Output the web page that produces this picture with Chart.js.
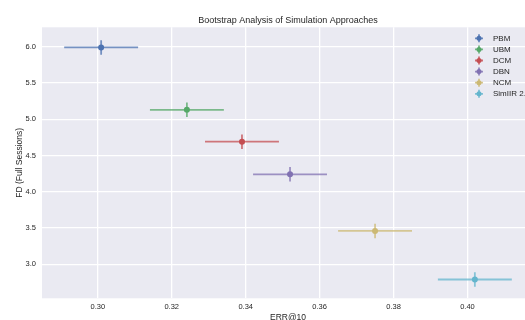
<!DOCTYPE html>
<html>
<head>
<meta charset="utf-8">
<script src="https://cdn.jsdelivr.net/npm/chart.js@4.4.1/dist/chart.umd.min.js"></script>
<style>
  html, body { margin: 0; padding: 0; background: #fff; overflow: hidden; }
  #wrap { width: 545px; height: 330px; }
</style>
</head>
<body>
<div id="wrap"><canvas id="chart" width="545" height="330"></canvas></div>
<script>
// data
const methods = ['PBM', 'UBM', 'DCM', 'DBN', 'NCM', 'SimIIR 2.0'];
const errValues = [0.3009, 0.3241, 0.3390, 0.3520, 0.3750, 0.4020];
const fdValues = [5.99, 5.13, 4.69, 4.24, 3.46, 2.79];
const errCi = [0.010, 0.010, 0.010, 0.010, 0.010, 0.010];
const fdCi = [0.10, 0.10, 0.10, 0.10, 0.10, 0.10];
const xTicks = [0.30, 0.32, 0.34, 0.36, 0.38, 0.40];
const yTicks = [3.0, 3.5, 4.0, 4.5, 5.0, 5.5, 6.0];
const colors = ['#4C72B0', '#55A868', '#C44E52', '#8172B2', '#CCB974', '#64B5CD'];

const FONT = "'Liberation Sans', Arial, sans-serif";
const TEXT = '#262626';

// grey plot background (seaborn darkgrid)
const bgPlugin = {
  id: 'bg',
  beforeDraw(chart) {
    const { ctx, chartArea: a } = chart;
    ctx.save();
    ctx.fillStyle = '#EAEAF2';
    ctx.fillRect(a.left, a.top, a.width, a.height);
    ctx.restore();
  }
};

// horizontal + vertical error bars through the scales
const errPlugin = {
  id: 'errbars',
  beforeDatasetsDraw(chart) {
    const { ctx, chartArea: a } = chart;
    const xs = chart.scales.x, ys = chart.scales.y;
    ctx.save();
    ctx.beginPath();
    ctx.rect(a.left, a.top, a.width, a.height);
    ctx.clip();
    ctx.lineWidth = 1.8;
    ctx.globalAlpha = 0.75;
    methods.forEach((m, i) => {
      const cx = xs.getPixelForValue(errValues[i]);
      const cy = ys.getPixelForValue(fdValues[i]);
      ctx.strokeStyle = colors[i];
      ctx.beginPath();
      ctx.moveTo(xs.getPixelForValue(errValues[i] - errCi[i]), cy);
      ctx.lineTo(xs.getPixelForValue(errValues[i] + errCi[i]), cy);
      ctx.moveTo(cx, ys.getPixelForValue(fdValues[i] - fdCi[i]));
      ctx.lineTo(cx, ys.getPixelForValue(fdValues[i] + fdCi[i]));
      ctx.stroke();
    });
    ctx.restore();
  }
};

// legend in the upper right of the plot
const legendPlugin = {
  id: 'innerLegend',
  afterDraw(chart) {
    const { ctx } = chart;
    ctx.save();
    ctx.font = '8px ' + FONT;
    ctx.textBaseline = 'middle';
    ctx.textAlign = 'left';
    methods.forEach((m, i) => {
      const y = 38.3 + i * 11.1;
      const x = 479;
      ctx.strokeStyle = colors[i];
      ctx.fillStyle = colors[i];
      ctx.lineWidth = 1.8;
      ctx.globalAlpha = 0.8;
      ctx.beginPath();
      ctx.moveTo(x - 4, y); ctx.lineTo(x + 4, y);
      ctx.moveTo(x, y - 4); ctx.lineTo(x, y + 4);
      ctx.stroke();
      ctx.globalAlpha = 1;
      ctx.beginPath();
      ctx.arc(x, y, 2.5, 0, Math.PI * 2);
      ctx.fill();
      ctx.fillStyle = TEXT;
      ctx.fillText(m, 493, y);
    });
    ctx.restore();
  }
};

new Chart(document.getElementById('chart'), {
  type: 'scatter',
  data: {
    datasets: methods.map((m, i) => ({
      label: m,
      data: [{ x: errValues[i], y: fdValues[i] }],
      backgroundColor: colors[i],
      borderColor: colors[i],
      borderWidth: 0,
      pointRadius: 3,
      pointHoverRadius: 3
    }))
  },
  options: {
    responsive: false,
    animation: false,
    layout: { padding: { left: 0, right: 11, top: 0, bottom: 0 } },
    plugins: {
      legend: { display: false },
      tooltip: { enabled: false },
      title: {
        display: true,
        fullSize: false,
        text: 'Bootstrap Analysis of Simulation Approaches',
        color: TEXT,
        font: { family: FONT, size: 9, weight: 'normal' },
        padding: { top: 15.5, bottom: 1 }
      }
    },
    scales: {
      x: {
        type: 'linear',
        min: 0.2849,
        max: 0.418,
        afterBuildTicks: s => { s.ticks = xTicks.map(v => ({ value: v })); },
        afterFit: s => { s.height = 31.7; },
        grid: { color: '#ffffff', lineWidth: 1.3, drawTicks: false },
        border: { display: false },
        ticks: {
          color: TEXT,
          font: { family: FONT, size: 7.5 },
          padding: 4,
          maxRotation: 0,
          callback: v => Number(v).toFixed(2)
        },
        title: {
          display: true,
          text: 'ERR@10',
          color: TEXT,
          font: { family: FONT, size: 8.5 },
          padding: { top: 0, bottom: 7.5 }
        }
      },
      y: {
        type: 'linear',
        min: 2.531,
        max: 6.267,
        afterBuildTicks: s => { s.ticks = yTicks.map(v => ({ value: v })); },
        afterFit: s => { s.width = 42; },
        grid: { color: '#ffffff', lineWidth: 1.3, drawTicks: false },
        border: { display: false },
        ticks: {
          color: TEXT,
          font: { family: FONT, size: 7.5 },
          padding: 6,
          callback: v => Number(v).toFixed(1)
        },
        title: {
          display: true,
          text: 'FD (Full Sessions)',
          color: TEXT,
          font: { family: FONT, size: 8.5 },
          padding: { top: 14.5, bottom: 0 }
        }
      }
    }
  },
  plugins: [bgPlugin, errPlugin, legendPlugin]
});
</script>
</body>
</html>
